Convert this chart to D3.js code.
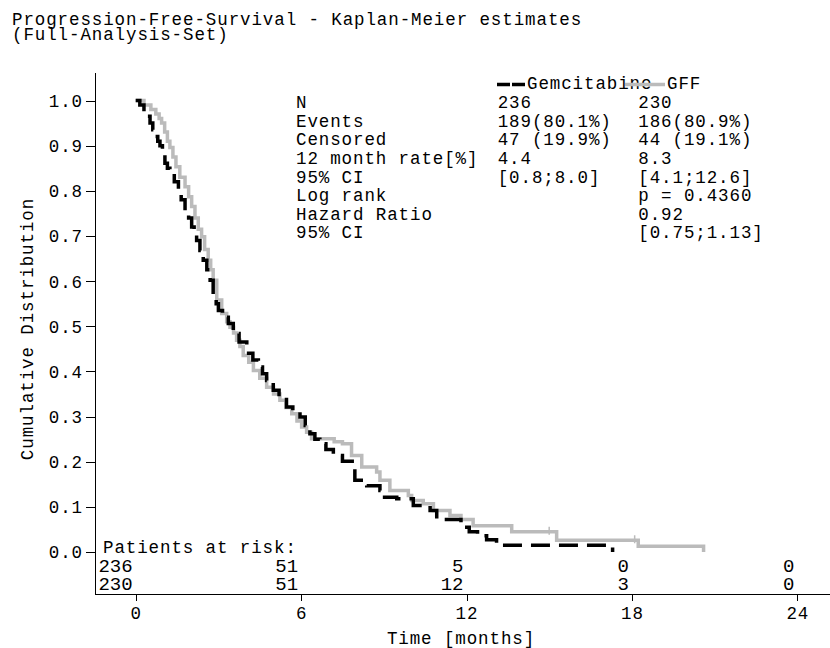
<!DOCTYPE html>
<html lang="en">
<head>
<meta charset="UTF-8">
<title>Progression-Free-Survival</title>
<script src="https://d3js.org/d3.v7.min.js"></script>
<style>
  body { margin: 0; background: #fff; }
  svg { display: block; }
  text { font-family: "Liberation Mono", "Courier New", monospace; font-size: 17.5px; letter-spacing: 0.9px; fill: #000; }
  .axis path, .axis line { stroke: #000; stroke-width: 1px; shape-rendering: crispEdges; }
  .axis text { font-family: "Liberation Mono", "Courier New", monospace; font-size: 17.5px; }
  text.risk { font-size: 19px; letter-spacing: 0; }
</style>
</head>
<body>
<svg width="830" height="648"></svg>
<script>
// Kaplan-Meier step points (months, survival)
const gemTime = [0, 0.15, 0.3, 0.4, 0.52, 0.62, 0.7, 0.8, 0.88, 0.97, 1.06, 1.15, 1.24, 1.4, 1.55, 1.65, 1.79, 1.92,
  2.03, 2.12, 2.21, 2.33, 2.45, 2.58, 2.7, 2.81, 2.92, 3.0, 3.15, 3.36, 3.54, 3.75, 4.03, 4.25, 4.45, 4.6, 4.75,
  4.99, 5.2, 5.47, 5.7, 5.96, 6.15, 6.32, 6.5, 6.68, 6.9, 7.17, 7.5, 7.95, 8.38, 8.86, 8.92, 9.47, 10.07, 10.68,
  10.92, 11.8, 12.1, 12.4, 12.73, 13.09, 17.3];
const gemSurv = [1.0, 0.99, 0.975, 0.965, 0.95, 0.935, 0.92, 0.91, 0.9, 0.88, 0.861, 0.85, 0.842, 0.82, 0.8, 0.78, 0.757, 0.74,
  0.72, 0.705, 0.69, 0.668, 0.646, 0.625, 0.602, 0.565, 0.55, 0.535, 0.52, 0.506, 0.484, 0.465, 0.44, 0.425, 0.41, 0.395, 0.38,
  0.358, 0.345, 0.321, 0.31, 0.299, 0.28, 0.262, 0.25, 0.24, 0.227, 0.214, 0.201, 0.159, 0.147, 0.136, 0.121, 0.118, 0.103, 0.092,
  0.072, 0.055, 0.045, 0.036, 0.027, 0.015, 0.0];

const gffTime = [0, 0.3, 0.55, 0.73, 0.85, 0.94, 1.05, 1.15, 1.24, 1.35, 1.46, 1.6, 1.79, 1.92, 2.03, 2.15, 2.27, 2.39,
  2.5, 2.63, 2.72, 2.81, 2.94, 3.12, 3.3, 3.42, 3.55, 3.66, 3.78, 3.9, 4.1, 4.27, 4.5, 4.75, 5.0, 5.23, 5.45, 5.66,
  5.85, 6.02, 6.2, 6.38, 7.2, 7.5, 7.83, 8.2, 8.74, 8.86, 9.22, 9.89, 10.01, 10.43, 10.8, 11.4, 11.8, 12.24, 13.64,
  15.27, 18.23, 20.6];
const gffSurv = [1.0, 0.99, 0.98, 0.97, 0.96, 0.95, 0.93, 0.91, 0.896, 0.875, 0.853, 0.83, 0.809, 0.787, 0.765, 0.74, 0.715, 0.698,
  0.67, 0.646, 0.625, 0.602, 0.558, 0.528, 0.51, 0.498, 0.485, 0.469, 0.455, 0.435, 0.42, 0.402, 0.385, 0.365, 0.35, 0.336, 0.32, 0.306,
  0.29, 0.277, 0.265, 0.251, 0.244, 0.24, 0.214, 0.188, 0.177, 0.159, 0.136, 0.125, 0.114, 0.107, 0.092, 0.081, 0.072, 0.058, 0.045,
  0.026, 0.013, 0.0];
const gffCensor = [15.0, 18.1];

const groups = ["Gemcitabine", "GFF"];
const statLabels = ["N", "Events", "Censored", "12 month rate[%]", "95% CI", "Log rank", "Hazard Ratio", "95% CI"];
const gemStats = ["236", "189(80.1%)", "47 (19.9%)", "4.4", "[0.8;8.0]", "", "", ""];
const gffStats = ["230", "186(80.9%)", "44 (19.1%)", "8.3", "[4.1;12.6]", "p = 0.4360", "0.92", "[0.75;1.13]"];

const riskTimes = [0, 6, 12, 18, 24];
const gemRisk = [236, 51, 5, 0, 0];
const gffRisk = [230, 51, 12, 3, 0];

const xTicks = [0, 6, 12, 18, 24];
const yTicks = d3.range(0, 11).map(d => d / 10);

const svg = d3.select("svg");

// scales: 0..24 months, 0..1 survival
const x = d3.scaleLinear().domain([0, 24]).range([135.7, 797.3]);
const y = d3.scaleLinear().domain([0, 1]).range([552, 100.5]);
const axLeft = 95, axBottom = 594, axTop = 72, axRight = 830;

// title
svg.append("text").attr("x", 12).attr("y", 25).text("Progression-Free-Survival - Kaplan-Meier estimates");
svg.append("text").attr("x", 12).attr("y", 39.5).text("(Full-Analysis-Set)");

// axes
const xAxisScale = x.copy().domain([x.invert(axLeft), x.invert(axRight)]).range([axLeft, axRight]);
const yAxisScale = y.copy().domain([y.invert(axBottom), y.invert(axTop)]).range([axBottom, axTop]);

const gx = svg.append("g").attr("class", "axis").attr("transform", `translate(0,${axBottom})`)
  .call(d3.axisBottom(xAxisScale).tickValues(xTicks).tickSize(7).tickSizeOuter(0).tickFormat(d3.format("d")));
gx.selectAll("text").attr("y", 25).attr("dy", 0);

const gy = svg.append("g").attr("class", "axis").attr("transform", `translate(${axLeft},0)`)
  .call(d3.axisLeft(yAxisScale).tickValues(yTicks).tickSize(9).tickSizeOuter(0).tickFormat(d3.format(".1f")));
gy.selectAll("text").attr("x", -12).attr("dy", "0.34em");

svg.append("text").attr("x", 461).attr("y", 644).attr("text-anchor", "middle").text("Time [months]");
svg.append("text").attr("transform", "translate(33,329) rotate(-90)").attr("text-anchor", "middle")
  .text("Cumulative Distribution");

// curves
const line = d3.line().x(d => x(d[0])).y(d => y(d[1])).curve(d3.curveStepAfter);
const gffData = d3.zip(gffTime, gffSurv);
const gemData = d3.zip(gemTime, gemSurv);

svg.append("path").datum(gffData).attr("d", line)
  .attr("fill", "none").attr("stroke", "#bbbbbb").attr("stroke-width", 3.5);

const survAt = (times, surv, t) => surv[d3.bisectRight(times, t) - 1];
svg.append("g").selectAll("line").data(gffCensor).join("line")
  .attr("x1", d => x(d)).attr("x2", d => x(d))
  .attr("y1", d => y(survAt(gffTime, gffSurv, d)) - 5)
  .attr("y2", d => y(survAt(gffTime, gffSurv, d)) + 3)
  .attr("stroke", "#bbbbbb").attr("stroke-width", 1.5);

svg.append("path").datum(gemData).attr("d", line)
  .attr("fill", "none").attr("stroke", "#000").attr("stroke-width", 3.5)
  .attr("stroke-dasharray", "19,9");

// stats block
const statY = i => 108.3 + i * 18.57;
svg.append("g").selectAll("text").data(statLabels).join("text")
  .attr("x", 296).attr("y", (d, i) => statY(i)).text(d => d);
svg.append("g").selectAll("text").data(gemStats).join("text")
  .attr("x", 497.7).attr("y", (d, i) => statY(i)).text(d => d);
svg.append("g").selectAll("text").data(gffStats).join("text")
  .attr("x", 638.3).attr("y", (d, i) => statY(i)).text(d => d);

// legend
svg.append("text").attr("x", 527).attr("y", 89).text(groups[0]);
svg.append("text").attr("x", 667).attr("y", 89).text(groups[1]);
svg.append("line").attr("x1", 497).attr("x2", 525).attr("y1", 84.5).attr("y2", 84.5)
  .attr("stroke", "#000").attr("stroke-width", 3.5).attr("stroke-dasharray", "13,2");
svg.append("line").attr("x1", 625).attr("x2", 665).attr("y1", 84.5).attr("y2", 84.5)
  .attr("stroke", "#bbbbbb").attr("stroke-width", 3.5);

// patients at risk
svg.append("text").attr("x", 103).attr("y", 553).text("Patients at risk:");
svg.append("g").selectAll("text").data(gemRisk).join("text").attr("class", "risk")
  .attr("x", (d, i) => x(riskTimes[i]) - 3).attr("y", 571.5).attr("text-anchor", "end").text(d => d);
svg.append("g").selectAll("text").data(gffRisk).join("text").attr("class", "risk")
  .attr("x", (d, i) => x(riskTimes[i]) - 3).attr("y", 590).attr("text-anchor", "end").text(d => d);
</script>
</body>
</html>
